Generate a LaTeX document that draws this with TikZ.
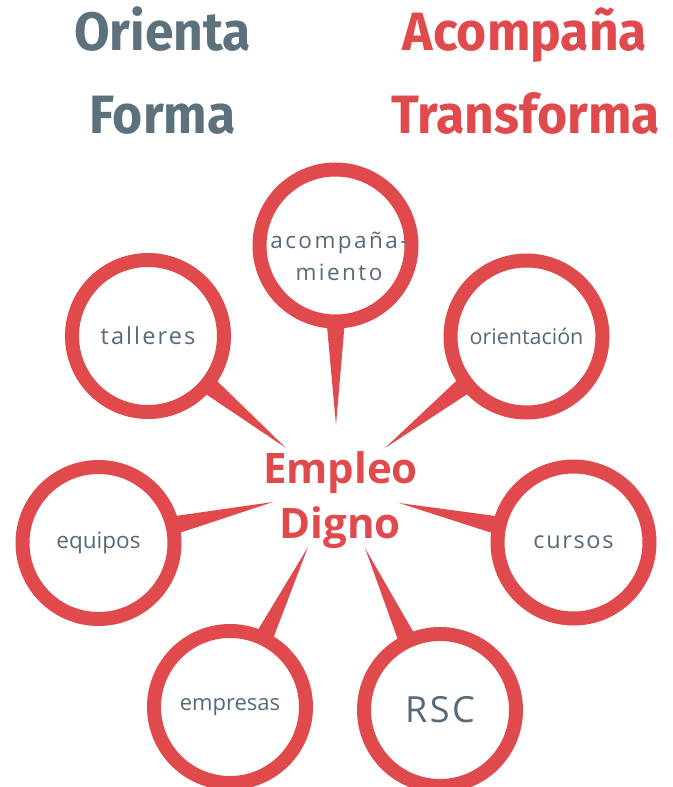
\documentclass[tikz,border=0pt]{standalone}
\usepackage{fontspec}
\setmainfont{Open Sans}
\newfontfamily\titlefont{Fira Sans}
\usetikzlibrary{calc}
\definecolor{rojo}{HTML}{E04A4D}
\definecolor{gris}{HTML}{56697A}
\definecolor{grist}{HTML}{5D717D}
\pgfdeclarelayer{bg}
\pgfsetlayers{bg,main}
\newcommand{\narrow}[1]{\scalebox{0.955}[1]{#1}}
\begin{document}
\begin{tikzpicture}[x=1pt,y=-1pt,
  bubble/.style={circle, draw=rojo, line width=14pt, fill=white,
    minimum size=152pt, inner sep=0pt, text=gris, align=center,
    font=\fontsize{21.5}{32}\selectfont},
  spaced/.style={font=\fontsize{23.5}{32}\selectfont\addfontfeatures{LetterSpace=#1}},
  inlabel/.style={text=gris, align=center, inner sep=0pt,
    font=\fontsize{22.5}{32}\selectfont\addfontfeatures{LetterSpace=11}},
  tail/.style={fill=rojo},
  titleg/.style={anchor=base, text=grist, font=\titlefont\bfseries\fontsize{54}{60}\selectfont},
  titler/.style={anchor=base, text=rojo, font=\titlefont\bfseries\fontsize{54}{60}\selectfont},
  centre/.style={anchor=base, text=rojo, font=\bfseries\fontsize{42}{50}\selectfont}]
\useasboundingbox (0,0) rectangle (672,787);
% titles
\node[titleg] (orienta) at (162.5,50) {\narrow{Orienta}};
\node[titleg] (forma) at (162.5,133) {\narrow{Forma}};
\node[titler] (acomp) at (525,50) {\narrow{Acompaña}};
\node[titler] (transf) at (525.5,133) {\narrow{Transforma}};
% centre
\node[centre] (empleo) at (340.5,483) {Empleo};
\node[centre] (digno) at (340,538) {Digno};
% bubbles
\node[bubble] (aco) at (335.5,245.5) {};
\node[inlabel] (acotext) at (339,256) {acompaña-\\miento};
\node[bubble, spaced=9] (tal) at (148,336) {talleres};
\node[bubble] (ori) at (526.5,336.5) {orientación};
\node[bubble, font=\fontsize{22.5}{32}\selectfont] (equ) at (98.5,543) {equipos};
\node[bubble, spaced=7] (cur) at (573.5,542.5) {cursos};
\node[bubble, font=\fontsize{22}{32}\selectfont] (emp) at (230,707) {empresas};
\node[bubble, font=\fontsize{36}{40}\selectfont\addfontfeatures{LetterSpace=7}] (rsc) at (440,710) {RSC};
% tips
\coordinate (tAco) at (336,425);
\coordinate (tTal) at (286,448);
\coordinate (tOri) at (385,448);
\coordinate (tEqu) at (273,502);
\coordinate (tCur) at (399,503);
\coordinate (tEmp) at (308,547);
\coordinate (tRsc) at (365,548);
\begin{pgfonlayer}{bg}
\foreach \n/\t in {aco/tAco, tal/tTal, ori/tOri, equ/tEqu, cur/tCur, emp/tEmp, rsc/tRsc}
  \fill[tail] ($(\n.center)!70pt!8:(\t)$) -- (\t) -- ($(\n.center)!70pt!-8:(\t)$) -- cycle;
\end{pgfonlayer}
\end{tikzpicture}
\end{document}
